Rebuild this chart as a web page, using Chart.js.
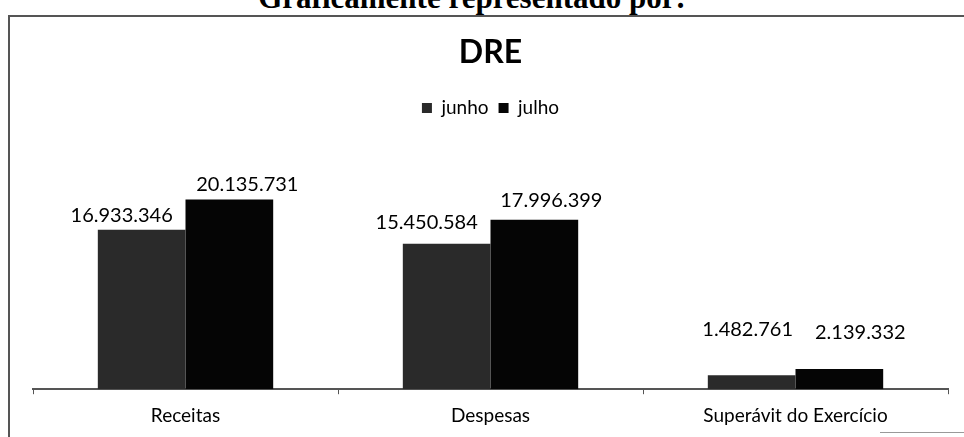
<!DOCTYPE html>
<html>
<head>
<meta charset="utf-8">
<script src="https://cdn.jsdelivr.net/npm/chart.js@4.4.0/dist/chart.umd.min.js"></script>
<style>
  html, body { margin: 0; padding: 0; background: #fff; overflow: hidden; }
  body { width: 964px; height: 437px; position: relative; }
  #header {
    position: absolute; left: 0; width: 944px; top: -17px;
    text-align: center; font: bold 31px "Liberation Serif", serif; line-height: 30px; color: #000;
  }
  #frame {
    position: absolute; left: 8px; top: 15px; width: 960px; height: 440px;
    border-left: 2px solid #555; border-top: 2px solid #555;
  }
  #corner { position: absolute; left: 880px; top: 432px; width: 84px; height: 1px; background: #999; }
  #wrap { position: absolute; left: 0; top: 0; width: 964px; height: 437px; }
</style>
</head>
<body>
<div id="header">Graficamente representado por:</div>
<div id="frame"></div>
<div id="corner"></div>
<div id="wrap"><canvas id="dreChart"></canvas></div>
<script>
// --- DATA ---
const categories = ['Receitas', 'Despesas', 'Superávit do Exercício'];
const junho = [16933346, 15450584, 1482761];
const julho = [20135731, 17996399, 2139332];

// label nudges (px) so the numbers sit like in the original
const junhoLabelDx = [-20, -20, -4];
const julhoLabelDx = [18, 17, 21];
const junhoLabelGap = [8, 15, 39];
const julhoLabelGap = [9, 13, 30];

const fmt = v => String(v).replace(/\B(?=(\d{3})+(?!\d))/g, '.');

// draws the value labels above each bar
const valueLabels = {
    id: 'valueLabels',
    afterDatasetsDraw(chart) {
        const ctx = chart.ctx;
        ctx.save();
        ctx.font = '20px Lato, sans-serif';
        ctx.fillStyle = '#000';
        ctx.textAlign = 'center';
        ctx.textBaseline = 'alphabetic';
        chart.data.datasets.forEach((ds, di) => {
            const meta = chart.getDatasetMeta(di);
            const dx = di === 0 ? junhoLabelDx : julhoLabelDx;
            const gap = di === 0 ? junhoLabelGap : julhoLabelGap;
            meta.data.forEach((bar, i) => {
                ctx.fillText(fmt(ds.data[i]), bar.x + dx[i], bar.y - gap[i]);
            });
        });
        ctx.restore();
    }
};

Chart.defaults.font.family = "Lato, sans-serif";
Chart.defaults.color = '#000';

new Chart(document.getElementById('dreChart').getContext('2d'), {
    type: 'bar',
    data: {
        labels: categories,
        datasets: [
            { label: 'junho', data: junho, backgroundColor: '#2a2a2a' },
            { label: 'julho', data: julho, backgroundColor: '#050505' }
        ]
    },
    options: {
        responsive: true, maintainAspectRatio: false, animation: false,
        layout: { padding: { top: 33, left: 33, right: 16, bottom: 0 } },
        categoryPercentage: 0.575, barPercentage: 1,
        plugins: {
            title: { display: true, text: 'DRE', font: { size: 32, weight: 'bold' }, color: '#000', padding: { top: 0, bottom: 17 } },
            legend: {
                position: 'top',
                labels: { boxWidth: 10, boxHeight: 10, font: { size: 19 }, color: '#000', padding: 10 }
            },
            tooltip: { enabled: false }
        },
        scales: {
            x: {
                grid: { display: true, drawOnChartArea: false, offset: true, tickLength: 5, color: '#555' },
                border: { display: true, color: '#555', width: 2 },
                ticks: { font: { size: 19 }, color: '#000', padding: 10 }
            },
            y: { display: false, min: 0, max: 27800000 }
        }
    },
    plugins: [valueLabels]
});
</script>
</body>
</html>
